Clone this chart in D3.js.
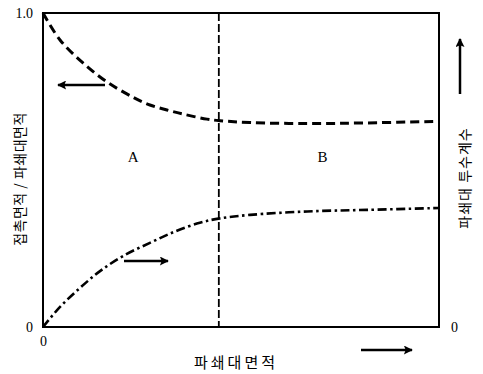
<!DOCTYPE html>
<html><head><meta charset="utf-8">
<script src="https://cdn.jsdelivr.net/npm/d3@7"></script>
<style>body{margin:0;background:#fff}svg{display:block}</style>
</head><body>
<svg id="c" width="483" height="374"></svg>
<script>
// Data (x = fraction of 파쇄대면적)
const contactX = [0, 0.043, 0.101, 0.162, 0.227, 0.270, 0.313, 0.354, 0.414, 0.447, 0.523, 0.667, 0.818, 1.0];
const contactY = [1.0, 0.914, 0.841, 0.780, 0.732, 0.707, 0.691, 0.678, 0.662, 0.657, 0.651, 0.648, 0.650, 0.655];
const permX = [0, 0.043, 0.093, 0.144, 0.202, 0.270, 0.333, 0.396, 0.447, 0.523, 0.667, 0.818, 1.0];
const permY = [0, 0.064, 0.124, 0.178, 0.226, 0.268, 0.304, 0.332, 0.346, 0.357, 0.368, 0.373, 0.379];
const boundaryX = 0.444;
const regionLabels = ["A", "B"];
const regionX = [0.228, 0.706];
const regionY = [0.54, 0.54];
const leftTicks = [0, 1];
const leftTickLabels = ["0", "1.0"];
const bottomTicks = [0];
const rightTicks = [0];
const xTitle = "파쇄대면적";
const yLeftTitle = "접촉면적 / 파쇄대면적";
const yRightTitle = "파쇄대 투수계수";

const svg = d3.select("#c");
const x = d3.scaleLinear().domain([0, 1]).range([43, 439]);
const y = d3.scaleLinear().domain([0, 1]).range([327, 13]);
const serif = "'Liberation Serif', 'DejaVu Serif', serif";
const cjk = "'Noto Sans CJK KR', sans-serif";

const defs = svg.append("defs");
defs.append("marker").attr("id", "ah").attr("viewBox", "0 0 10 10")
  .attr("refX", 9).attr("refY", 5).attr("markerWidth", 11).attr("markerHeight", 9)
  .attr("markerUnits", "userSpaceOnUse").attr("orient", "auto")
  .append("path").attr("d", "M0,0 L10,5 L0,10 L2,5 Z").attr("fill", "#000");

// frame
svg.append("rect").attr("x", x(0)).attr("y", y(1)).attr("width", x(1) - x(0)).attr("height", y(0) - y(1))
  .attr("fill", "none").attr("stroke", "#000").attr("stroke-width", 2);

// axes (labels only)
const ax = (g) => { g.select(".domain").remove(); g.selectAll("text").attr("font-family", serif).attr("font-size", 14).attr("fill", "#000"); };
svg.append("g").attr("transform", `translate(${x(0)},0)`)
  .call(d3.axisLeft(y).tickValues(leftTicks).tickSize(0).tickPadding(10).tickFormat((d, i) => leftTickLabels[i]))
  .call(ax);
svg.append("g").attr("transform", `translate(0,${y(0)})`)
  .call(d3.axisBottom(x).tickValues(bottomTicks).tickSize(0).tickPadding(9).tickFormat(d3.format("d")))
  .call(ax);
svg.append("g").attr("transform", `translate(${x(1)},0)`)
  .call(d3.axisRight(y).tickValues(rightTicks).tickSize(0).tickPadding(12).tickFormat(d3.format("d")))
  .call(ax);

// vertical boundary
svg.append("line").attr("x1", x(boundaryX)).attr("x2", x(boundaryX)).attr("y1", y(1)).attr("y2", y(0))
  .attr("stroke", "#000").attr("stroke-width", 1.8).attr("stroke-dasharray", "8,3");

const line = d3.line().x(d => x(d[0])).y(d => y(d[1])).curve(d3.curveCatmullRom.alpha(0.5));
svg.append("path").datum(contactX.map((v, i) => [v, contactY[i]]))
  .attr("d", line).attr("fill", "none").attr("stroke", "#000").attr("stroke-width", 3)
  .attr("stroke-dasharray", "9,5");
svg.append("path").datum(permX.map((v, i) => [v, permY[i]]))
  .attr("d", line).attr("fill", "none").attr("stroke", "#000").attr("stroke-width", 2.6)
  .attr("stroke-dasharray", "9,3.5,2.5,3.5");

// region labels
svg.selectAll("text.reg").data(regionLabels).join("text").attr("class", "reg")
  .attr("x", (d, i) => x(regionX[i])).attr("y", (d, i) => y(regionY[i]))
  .attr("text-anchor", "middle").attr("dominant-baseline", "central")
  .attr("font-family", serif).attr("font-size", 15).text(d => d);

// arrows
const arrow = (x1, y1, x2, y2) => svg.append("line").attr("x1", x1).attr("y1", y1).attr("x2", x2).attr("y2", y2)
  .attr("stroke", "#000").attr("stroke-width", 2.5).attr("marker-end", "url(#ah)");
arrow(105, 85, 58, 85);
arrow(124, 261, 168, 261);
arrow(460, 94, 460, 39);
arrow(361, 350, 412, 350);

// titles
svg.append("text").attr("x", 236).attr("y", 361).attr("text-anchor", "middle").attr("dominant-baseline", "central")
  .attr("font-family", cjk).attr("font-size", 15).attr("letter-spacing", 3).text(xTitle);
svg.append("text").attr("transform", "translate(19,179) rotate(-90)").attr("text-anchor", "middle")
  .attr("dominant-baseline", "central").attr("font-family", cjk).attr("font-size", 14).attr("letter-spacing", 0.5).text(yLeftTitle);
svg.append("text").attr("transform", "translate(464,178) rotate(-90)").attr("text-anchor", "middle")
  .attr("dominant-baseline", "central").attr("font-family", cjk).attr("font-size", 14).attr("letter-spacing", 1).text(yRightTitle);
</script>
</body></html>
